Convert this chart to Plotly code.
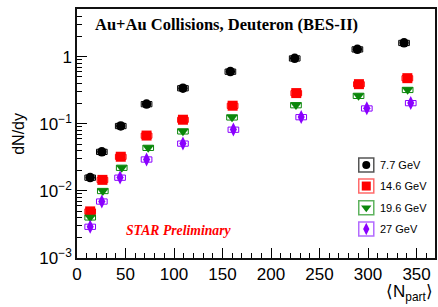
import plotly.graph_objects as go

# ---- data ----
energies = ["7.7 GeV", "14.6 GeV", "19.6 GeV", "27 GeV"]
npart_77 = [13.6, 25.6, 45.1, 71.7, 109.2, 158.1, 224.4, 289.0, 337.1]
dndy_77 = [0.0158, 0.0383, 0.093, 0.197, 0.340, 0.60, 0.946, 1.29, 1.61]
npart_146 = [13.6, 26.2, 45.1, 71.7, 109.2, 160.4, 226.0, 290.6, 340.5]
dndy_146 = [0.00495, 0.0146, 0.0323, 0.0668, 0.115, 0.186, 0.287, 0.39, 0.479]
npart_196 = [13.6, 26.6, 46.1, 73.4, 109.2, 159.8, 225.7, 290.2, 340.8]
dndy_196 = [0.00404, 0.0100, 0.0222, 0.044, 0.0774, 0.125, 0.19, 0.262, 0.321]
npart_27 = [13.6, 25.6, 44.4, 71.7, 109.2, 161.2, 231.1, 298.7, 344.0]
dndy_27 = [0.00293, 0.00697, 0.0158, 0.0295, 0.0509, 0.082, 0.126, 0.17, 0.204]
stat_rel = 0.06      # relative statistical error (vertical bar)
sys_rel = 0.09       # relative systematic error (box height)
sys_dx = 5.5         # box half width in Npart

y_tickvals = [0.001, 0.01, 0.1, 1]
y_ticktext = ["10<sup>−3</sup>", "10<sup>−2</sup>", "10<sup>−1</sup>", "1"]
x_tickvals = [0, 50, 100, 150, 200, 250, 300, 350]

series = [
    (npart_77, dndy_77, "#000000", "#555555", "circle", 9.5),
    (npart_146, dndy_146, "#ff0000", "#ff6b6b", "square", 10),
    (npart_196, dndy_196, "#0a870a", "#5fb35f", "triangle-down", 10),
    (npart_27, dndy_27, "#8a00ff", "#b36bff", "diamond-tall", 10),
]

fig = go.Figure()
shapes = []
for (xs, ys, col, lcol, sym, sz), name in zip(series, energies):
    for x, y in zip(xs, ys):
        shapes.append(dict(type="rect", xref="x", yref="y", layer="below",
                           x0=x - sys_dx, x1=x + sys_dx,
                           y0=y * (1 - sys_rel), y1=y * (1 + sys_rel),
                           line=dict(color=col, width=1), fillcolor="rgba(0,0,0,0)"))
    fig.add_trace(go.Scatter(
        x=xs, y=ys, mode="markers", name=name, showlegend=False,
        marker=dict(symbol=sym, size=sz, color=col, line=dict(width=0)),
        error_y=dict(type="percent", value=stat_rel * 100, width=0,
                     thickness=1, color=col),
    ))

# ---- manual legend (ROOT style) ----
leg_x = 0.808
leg_ys = [0.3735, 0.289, 0.202, 0.1165]
leg_sizes = [8, 9, 9, 9]
for (xs, ys, col, lcol, sym, sz), name, ly, ls in zip(series, energies, leg_ys, leg_sizes):
    fig.add_trace(go.Scatter(
        x=[leg_x], y=[ly], xaxis="x2", yaxis="y2", mode="markers",
        showlegend=False, hoverinfo="skip",
        marker=dict(symbol=sym, size=ls, color=col, line=dict(width=0)),
    ))
    shapes.append(dict(type="rect", xref="x2", yref="y2",
                       x0=leg_x - 0.021, x1=leg_x + 0.021,
                       y0=ly - 0.028, y1=ly + 0.028,
                       line=dict(color=lcol, width=1.5), fillcolor="rgba(0,0,0,0)"))

annotations = [
    dict(text="<b>Au+Au Collisions, Deuteron (BES-II)</b>", xref="paper", yref="paper",
         x=0.045, y=0.936, xanchor="left", yanchor="middle", showarrow=False,
         font=dict(family="Liberation Serif", size=16.5, color="#000000")),
    dict(text="<b><i>STAR Preliminary</i></b>", xref="paper", yref="paper",
         x=0.131, y=0.112, xanchor="left", yanchor="middle", showarrow=False,
         font=dict(family="Liberation Serif", size=13.7, color="#ff0000")),
    dict(text="⟨N<sub>part</sub>⟩", xref="paper", yref="paper",
         x=1.0, y=-0.09, xanchor="right", yanchor="top", showarrow=False,
         font=dict(family="Liberation Sans", size=17, color="#000000")),
    dict(text="dN/dy", xref="paper", yref="paper", textangle=-90,
         x=-0.164, y=0.5, xanchor="center", yanchor="middle", showarrow=False,
         font=dict(family="Liberation Sans", size=16, color="#000000")),
]
for name, ly in zip(energies, leg_ys):
    annotations.append(dict(text=name, xref="x2", yref="y2", x=0.842, y=ly,
                            xanchor="left", yanchor="middle", showarrow=False,
                            font=dict(family="Liberation Sans", size=11, color="#000000")))

y_minor = [k * 10 ** e for e in range(-3, 1) for k in range(2, 10)]

fig.update_layout(
    width=438, height=307,
    margin=dict(l=77, r=1, t=9, b=49),
    paper_bgcolor="white", plot_bgcolor="white",
    font=dict(family="Liberation Sans", color="#000000"),
    shapes=shapes, annotations=annotations,
    xaxis=dict(range=[0, 369], tickvals=x_tickvals, ticks="inside", ticklen=10,
               tickwidth=1, tickcolor="#000000", showgrid=False, zeroline=False,
               showline=True, linecolor="#111111", linewidth=1.5, mirror=True,
               tickfont=dict(size=17, family="Liberation Sans"),
               minor=dict(dtick=10, ticks="inside", ticklen=5, tickcolor="#000000",
                          showgrid=False)),
    yaxis=dict(type="log", range=[-3, 0.711], tickvals=y_tickvals, ticktext=y_ticktext,
               ticks="inside", ticklen=10, tickwidth=1, tickcolor="#000000",
               showgrid=False, zeroline=False, showline=True, linecolor="#111111",
               linewidth=1.5, mirror=True,
               tickfont=dict(size=17, family="Liberation Sans"),
               minor=dict(tickvals=y_minor, ticks="inside", ticklen=5,
                          tickcolor="#000000", showgrid=False)),
    xaxis2=dict(range=[0, 1], overlaying="x", visible=False, fixedrange=True),
    yaxis2=dict(range=[0, 1], overlaying="y", visible=False, fixedrange=True),
    showlegend=False,
)

fig.write_html("out.html", config={"displayModeBar": False},
               post_script="document.body.style.margin='0';document.body.style.padding='0';")
